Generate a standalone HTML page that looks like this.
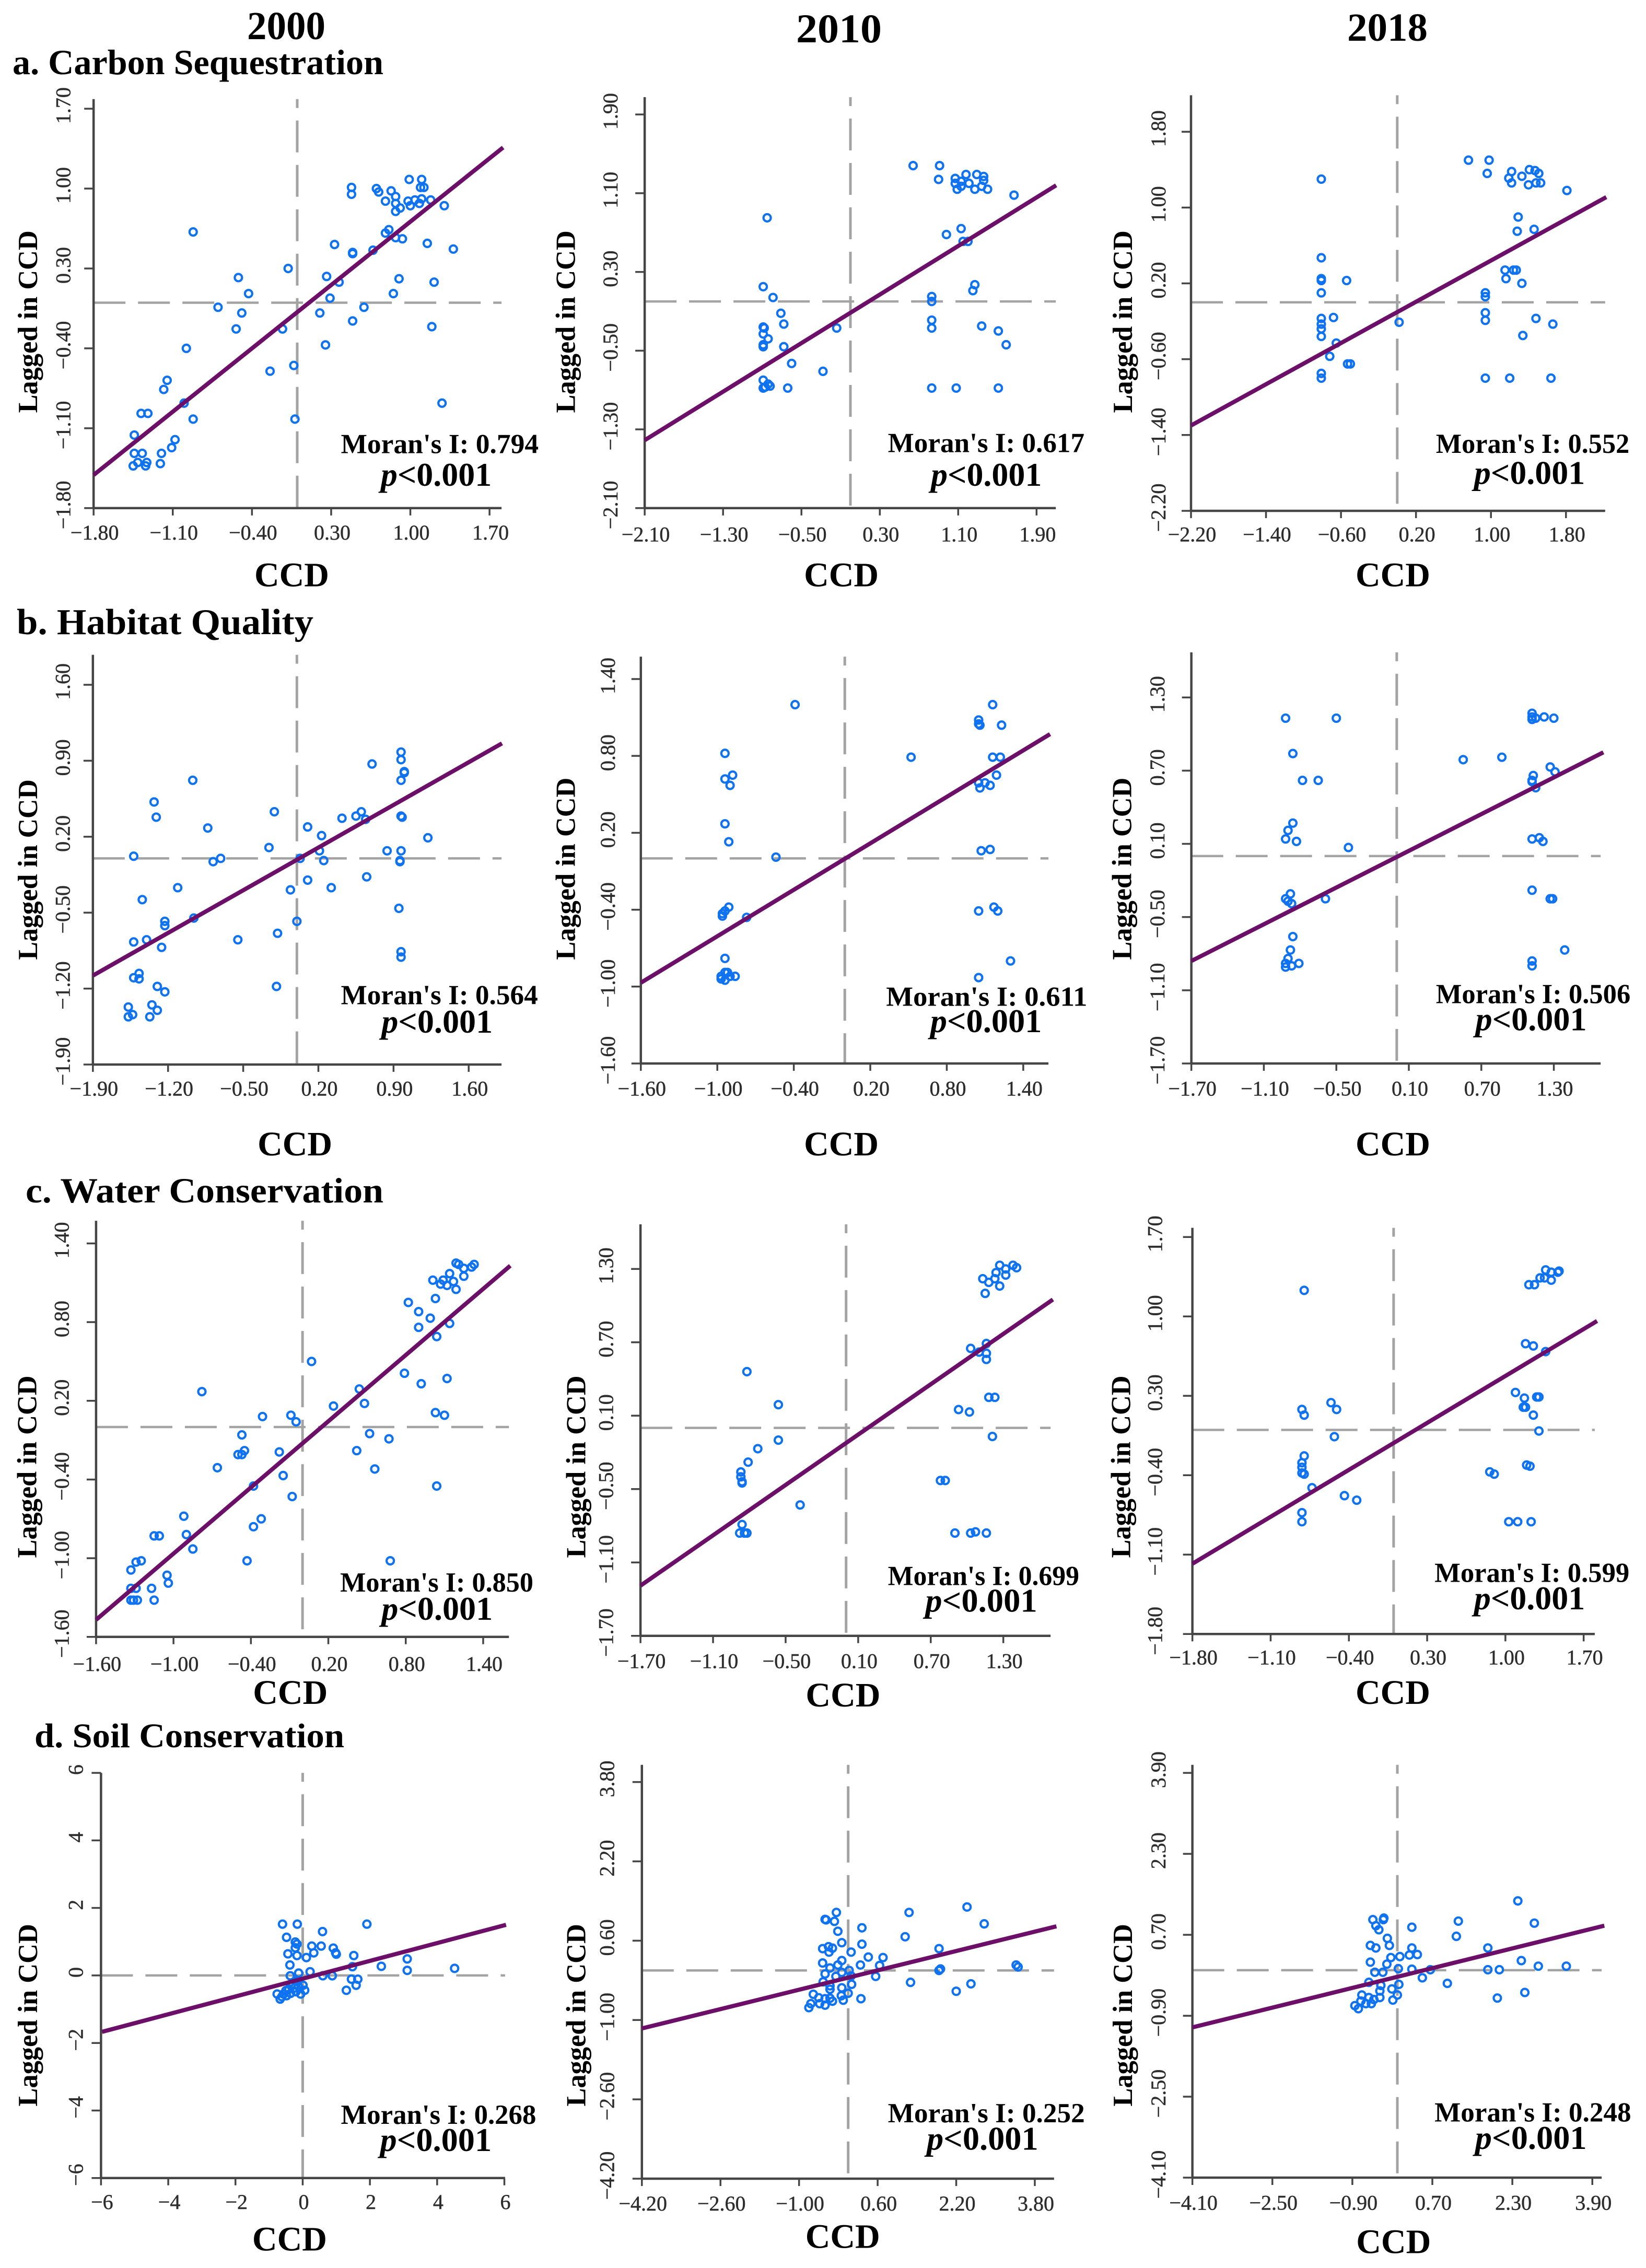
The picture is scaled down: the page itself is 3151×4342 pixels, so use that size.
<!DOCTYPE html>
<html lang="en">
<head>
<meta charset="utf-8">
<title>Moran scatter plots of CCD</title>
<style>
html,body{margin:0;padding:0;background:#fff;width:3151px;height:4342px;overflow:hidden}
svg{display:block}
text{font-family:"Liberation Serif","Noto Serif CJK SC",serif}
.b{font-weight:bold;fill:#000}
</style>
</head>
<body>
<svg id="figure" xmlns="http://www.w3.org/2000/svg" width="3151" height="4342" viewBox="0 0 3151 4342">
<rect width="3151" height="4342" fill="#fff"/>
<text class="b" x="548" y="75" font-size="76" text-anchor="middle" textLength="150" lengthAdjust="spacingAndGlyphs">2000</text>
<text class="b" x="1606" y="81" font-size="78" text-anchor="middle" textLength="164" lengthAdjust="spacingAndGlyphs">2010</text>
<text class="b" x="2656" y="78" font-size="76" text-anchor="middle" textLength="154" lengthAdjust="spacingAndGlyphs">2018</text>
<text class="b" x="24" y="142" font-size="68" textLength="710" lengthAdjust="spacingAndGlyphs">a. Carbon Sequestration</text>
<text class="b" x="32" y="1214" font-size="70" textLength="568" lengthAdjust="spacingAndGlyphs">b. Habitat Quality</text>
<text class="b" x="49" y="2302" font-size="68" textLength="685" lengthAdjust="spacingAndGlyphs">c. Water Conservation</text>
<text class="b" x="66" y="3345" font-size="66" textLength="593" lengthAdjust="spacingAndGlyphs">d. Soil Conservation</text>
<g id="panels"></g>
</svg>
<script>
// ---- Chart data (values in axis units) ----
const ticks18 = [-1.8,-1.1,-0.4,0.3,1.0,1.7];
const ticks21 = [-2.1,-1.3,-0.5,0.3,1.1,1.9];
const ticks22 = [-2.2,-1.4,-0.6,0.2,1.0,1.8];
const ticks19 = [-1.9,-1.2,-0.5,0.2,0.9,1.6];
const ticks16b = [-1.6,-1.0,-0.4,0.2,0.8,1.4];
const ticks17 = [-1.7,-1.1,-0.5,0.1,0.7,1.3];
const ticks6 = [-6,-4,-2,0,2,4,6];
const ticks42 = [-4.2,-2.6,-1.0,0.6,2.2,3.8];
const ticks41 = [-4.1,-2.5,-0.9,0.7,2.3,3.9];

const moranValues = ["0.794","0.617","0.552","0.564","0.611","0.506","0.850","0.699","0.599","0.268","0.252","0.248"];

const lineA2000X = [-1.8,1.82], lineA2000Y = [-1.51,1.36];
const lineA2010X = [-2.1,2.10], lineA2010Y = [-1.41,1.18];
const lineA2018X = [-2.2,2.23], lineA2018Y = [-1.30,1.11];
const lineB2000X = [-1.9,1.91], lineB2000Y = [-1.08,1.06];
const lineB2010X = [-1.6,1.61], lineB2010Y = [-0.97,0.97];
const lineB2018X = [-1.7,1.71], lineB2018Y = [-0.86,0.85];
const lineC2000X = [-1.6,1.61], lineC2000Y = [-1.47,1.23];
const lineC2010X = [-1.7,1.71], lineC2010Y = [-1.29,1.05];
const lineC2018X = [-1.8,1.82], lineC2018Y = [-1.18,0.96];
const lineD2000X = [-5.97,6.05], lineD2000Y = [-1.67,1.50];
const lineD2010X = [-4.2,4.24], lineD2010Y = [-1.17,0.89];
const lineD2018X = [-4.1,4.14], lineD2018Y = [-1.13,0.88];

const pointsA2000 = [[-.92,.62],[.48,1.01],[.48,.95],[.70,1.00],[.72,.97],[.83,.98],[.87,.93],[.78,.89],[.87,.87],[.87,.80],[.91,.83],[.99,1.08],[1.10,1.08],[1.09,1.01],[1.12,1.01],[.98,.89],[1.00,.85],[1.04,.90],[1.08,.87],[1.10,.91],[1.18,.90],[1.30,.85],[.81,.64],[.78,.61],[.87,.57],[.93,.56],[1.15,.52],[1.38,.47],[.67,.46],[.33,.51],[.49,.44],[.49,.43],[-.08,.30],[.26,.23],[.37,.18],[.90,.21],[1.21,.18],[-.52,.22],[-.43,.08],[.85,.08],[.29,.04],[.59,-.04],[-.70,-.04],[-.49,-.09],[.20,-.09],[-.54,-.23],[-.13,-.23],[.49,-.16],[1.19,-.21],[.25,-.37],[-.98,-.40],[-.24,-.60],[-.03,-.55],[-1.15,-.68],[-1.18,-.76],[-1.00,-.88],[1.28,-.88],[-1.38,-.97],[-1.32,-.97],[-.92,-1.02],[-.02,-1.02],[-1.44,-1.16],[-1.08,-1.20],[-1.11,-1.27],[-1.44,-1.32],[-1.37,-1.32],[-1.20,-1.32],[-1.41,-1.40],[-1.33,-1.40],[-1.21,-1.41],[-1.45,-1.43],[-1.34,-1.43]];
const pointsA2010 = [[.64,1.38],[.91,1.38],[.90,1.24],[1.07,1.25],[1.07,1.20],[1.18,1.29],[1.29,1.29],[1.36,1.27],[1.36,1.23],[1.13,1.22],[1.21,1.20],[1.13,1.17],[1.09,1.14],[1.27,1.14],[1.34,1.17],[1.40,1.14],[1.67,1.08],[1.13,.74],[.98,.68],[1.15,.61],[1.20,.61],[-.85,.85],[-.89,.15],[-.79,.04],[1.27,.17],[1.25,.11],[.83,.05],[.83,.00],[.83,-.19],[.83,-.27],[-.71,-.12],[-.68,-.23],[-.89,-.26],[-.88,-.27],[-.89,-.33],[-.84,-.38],[-.89,-.44],[-.89,-.46],[-.68,-.46],[-.14,-.27],[1.34,-.25],[1.51,-.30],[1.59,-.44],[-.60,-.63],[-.28,-.71],[-.89,-.80],[-.89,-.88],[-.84,-.84],[-.82,-.86],[-.87,-.87],[-.64,-.88],[.83,-.88],[1.08,-.88],[1.51,-.88]];
const pointsA2018 = [[.76,1.50],[.98,1.50],[.96,1.36],[-.81,1.30],[1.22,1.38],[1.19,1.31],[1.22,1.26],[1.33,1.33],[1.41,1.40],[1.40,1.24],[1.47,1.39],[1.51,1.36],[1.48,1.26],[1.53,1.26],[1.81,1.18],[1.29,.90],[1.28,.75],[1.46,.77],[-.81,.47],[-.81,.25],[-.81,.23],[-.54,.23],[-.81,.10],[1.15,.34],[1.16,.25],[1.24,.34],[1.27,.34],[1.33,.20],[.94,.10],[.94,.06],[.94,-.11],[.94,-.19],[.02,-.21],[-.68,-.16],[-.81,-.17],[-.81,-.23],[-.81,-.28],[-.81,-.36],[1.48,-.17],[1.66,-.23],[1.34,-.35],[-.65,-.43],[-.72,-.57],[-.53,-.65],[-.50,-.65],[-.81,-.75],[-.81,-.80],[.94,-.80],[1.20,-.80],[1.64,-.80]];
const pointsB2000 = [[.97,.98],[.97,.91],[.70,.87],[1.00,.80],[1.00,.79],[.97,.72],[-.97,.72],[-1.33,.52],[-1.31,.38],[-.83,.28],[-.21,.43],[.97,.39],[.98,.38],[.60,.43],[.55,.39],[.64,.36],[.42,.37],[.10,.29],[.23,.21],[1.22,.19],[-.26,.10],[.21,.07],[.84,.07],[.97,.07],[-1.52,.02],[-.71,0],[-.78,-.03],[.03,0],[.25,-.02],[.96,-.02],[.96,-.03],[.65,-.17],[.10,-.20],[-1.11,-.27],[-.06,-.29],[.32,-.27],[-1.44,-.38],[.95,-.46],[-.96,-.55],[-1.23,-.58],[-1.23,-.62],[0,-.58],[-.18,-.69],[-1.40,-.75],[-.55,-.75],[-1.52,-.77],[-1.26,-.82],[.97,-.86],[.97,-.91],[-1.47,-1.06],[-1.52,-1.10],[-1.47,-1.11],[-1.30,-1.18],[-.19,-1.18],[-1.23,-1.23],[-1.35,-1.35],[-1.57,-1.37],[-1.30,-1.40],[-1.53,-1.44],[-1.57,-1.46],[-1.37,-1.46]];
const pointsB2010 = [[-.39,1.20],[1.16,1.20],[1.05,1.08],[1.05,1.05],[1.06,1.04],[1.23,1.04],[-.94,.82],[.52,.79],[1.16,.79],[1.22,.79],[-.88,.65],[1.19,.65],[-.94,.62],[-.90,.57],[1.05,.59],[1.10,.59],[1.06,.55],[1.14,.57],[-.94,.27],[-.91,.13],[1.14,.07],[1.07,.06],[-.54,.01],[-.91,-.38],[-.94,-.41],[-.96,-.43],[-.96,-.45],[-.77,-.46],[1.05,-.41],[1.17,-.38],[1.20,-.41],[-.94,-.78],[1.30,-.80],[-.94,-.89],[-.90,-.92],[-.86,-.92],[-.97,-.92],[-.97,-.94],[-.94,-.95],[-.92,-.89],[1.05,-.93]];
const pointsB2018 = [[-.92,1.13],[-.50,1.13],[1.12,1.17],[1.12,1.12],[1.15,1.13],[1.12,1.14],[1.22,1.14],[1.30,1.13],[-.86,.84],[.55,.79],[.87,.81],[1.27,.73],[1.31,.69],[-.78,.62],[-.65,.62],[1.13,.66],[1.12,.62],[1.12,.61],[1.15,.56],[-.86,.27],[-.90,.21],[-.92,.14],[-.83,.12],[1.12,.14],[1.18,.15],[1.21,.12],[-.40,.07],[1.12,-.28],[-.88,-.31],[-.92,-.35],[-.90,-.37],[-.87,-.39],[-.59,-.35],[1.27,-.35],[1.29,-.35],[-.86,-.66],[-.88,-.77],[1.39,-.77],[-.90,-.84],[-.81,-.88],[-.92,-.88],[-.92,-.91],[-.87,-.90],[1.12,-.86],[1.12,-.90]];
const pointsC2000 = [[1.19,1.25],[1.21,1.24],[1.25,1.21],[1.31,1.22],[1.33,1.24],[1.14,1.17],[1.25,1.15],[1.01,1.12],[1.09,1.12],[1.07,1.09],[1.12,1.08],[1.17,1.11],[1.19,1.05],[1.03,.98],[.82,.95],[.90,.88],[.99,.83],[.90,.76],[1.14,.79],[1.04,.69],[.07,.50],[.79,.41],[1.12,.37],[.92,.33],[.44,.29],[-.78,.27],[.24,.16],[.48,.18],[-.31,.08],[-.09,.09],[-.05,.04],[1.03,.11],[1.10,.09],[-.47,-.06],[.52,-.05],[.67,-.09],[-.45,-.18],[-.50,-.21],[-.47,-.21],[-.18,-.19],[.42,-.18],[-.66,-.31],[.56,-.32],[-.15,-.37],[-.38,-.45],[1.04,-.45],[-.08,-.53],[-.92,-.68],[-.32,-.70],[-.38,-.76],[-.90,-.82],[-1.15,-.83],[-1.11,-.83],[-.85,-.93],[-.43,-1.02],[.68,-1.02],[-1.25,-1.02],[-1.29,-1.03],[-1.33,-1.09],[-1.05,-1.13],[-1.04,-1.19],[-1.29,-1.23],[-1.33,-1.23],[-1.17,-1.23],[-1.33,-1.32],[-1.31,-1.32],[-1.28,-1.32],[-1.15,-1.32]];
const pointsC2010 = [[1.27,1.33],[1.38,1.33],[1.41,1.31],[1.32,1.30],[1.24,1.27],[1.32,1.25],[1.13,1.22],[1.23,1.22],[1.18,1.19],[1.27,1.16],[1.15,1.10],[1.16,.69],[1.03,.65],[1.10,.62],[1.16,.61],[1.16,.56],[-.82,.46],[1.18,.25],[1.23,.25],[-.56,.19],[.93,.15],[1.02,.13],[1.21,-.07],[-.56,-.10],[-.73,-.17],[-.81,-.28],[-.87,-.36],[-.87,-.40],[-.86,-.44],[-.86,-.45],[.78,-.43],[.82,-.43],[-.38,-.63],[-.86,-.79],[-.88,-.86],[-.82,-.86],[-.84,-.86],[.90,-.86],[1.03,-.86],[1.07,-.85],[1.16,-.86]];
const pointsC2018 = [[1.36,1.41],[1.41,1.39],[1.48,1.40],[1.47,1.39],[1.31,1.34],[1.35,1.34],[1.41,1.32],[1.21,1.28],[1.26,1.28],[-.80,1.23],[1.18,.76],[1.25,.74],[1.36,.69],[1.09,.33],[1.17,.28],[1.28,.29],[1.30,.29],[-.56,.24],[-.82,.18],[-.51,.18],[1.16,.20],[1.18,.20],[-.80,.13],[1.25,.13],[1.30,-.01],[-.53,-.06],[-.80,-.23],[-.82,-.29],[-.82,-.33],[-.82,-.38],[-.80,-.39],[1.19,-.31],[1.22,-.32],[.86,-.37],[.90,-.39],[-.73,-.51],[-.44,-.58],[-.33,-.62],[-.82,-.73],[-.82,-.81],[1.03,-.81],[1.11,-.81],[1.23,-.81]];
const pointsD2000 = [[-.60,1.52],[-.16,1.52],[1.91,1.52],[.59,1.30],[-.48,1.13],[-.22,.99],[-.22,.82],[-.17,.93],[.27,.87],[.55,.87],[.91,.81],[.98,.67],[1.00,.63],[-.44,.64],[.33,.67],[-.17,.59],[.11,.53],[1.52,.59],[3.11,.49],[-.38,.31],[1.48,.26],[2.34,.27],[3.11,.15],[4.52,.21],[.22,.11],[-.12,.07],[-.37,-.01],[.60,-.01],[.88,-.01],[1.45,-.11],[1.64,-.11],[1.59,-.29],[1.30,-.44],[.06,-.44],[-.06,-.55],[.01,-.29],[-.20,-.17],[-.34,-.27],[-.41,-.40],[-.20,-.48],[-.36,-.53],[-.50,-.45],[-.57,-.55],[-.48,-.60],[-.76,-.55],[-.67,-.70],[-.62,-.63],[-.25,-.37],[-.13,-.32]];
const pointsD2010 = [[2.42,1.28],[-.24,1.17],[1.24,1.17],[-.47,1.03],[-.45,1.02],[2.77,.94],[-.28,.99],[.28,.86],[-.21,.79],[1.16,.68],[-.13,.56],[.28,.53],[-.52,.44],[-.40,.48],[-.32,.45],[-.39,.37],[.06,.37],[1.85,.44],[.41,.27],[.71,.26],[-.13,.20],[-.52,.15],[.25,.11],[.64,.10],[-.21,.11],[-.37,.05],[3.42,.11],[3.46,.07],[1.88,.03],[1.85,0],[.02,0],[-.13,-.04],[-.47,-.07],[-.25,-.12],[.06,-.11],[.56,-.12],[-.51,-.23],[1.27,-.24],[2.50,-.27],[.07,-.28],[-.37,-.31],[-.13,-.35],[-.37,-.38],[2.20,-.42],[0,-.46],[-.71,-.48],[-.14,-.51],[-.60,-.55],[-.37,-.56],[.26,-.57],[-.10,-.60],[-.32,-.62],[-.47,-.57],[-.76,-.67],[-.58,-.67],[-.47,-.70],[-.80,-.75]];
const pointsD2018 = [[2.41,1.37],[-.27,1.03],[-.49,1.00],[-.28,1.00],[1.22,.97],[2.74,.93],[-.43,.88],[.29,.85],[-.37,.80],[1.18,.67],[-.20,.63],[-.16,.49],[-.54,.49],[-.43,.44],[.29,.44],[1.81,.44],[.40,.31],[.24,.30],[.05,.27],[-.13,.25],[2.48,.19],[-.54,.16],[-.21,.12],[2.82,.08],[3.38,.08],[.02,.03],[.29,.02],[.66,.01],[1.81,.01],[2.04,.01],[-.45,-.04],[-.29,-.04],[.50,-.15],[-.57,-.24],[1.00,-.26],[.03,-.28],[-.33,-.30],[-.11,-.37],[-.35,-.41],[2.55,-.44],[-.71,-.49],[0,-.49],[-.57,-.54],[-.35,-.54],[2.00,-.55],[-.09,-.59],[-.47,-.58],[-.73,-.61],[-.63,-.66],[-.52,-.66],[-.85,-.70],[-.78,-.76]];

// ---- Layout (measured in per-cell reference units, converted below) ----
const colScale = [{o:0,k:1.479},{o:1060,k:1.493},{o:2110,k:1.506}];
const rowScale = [{o:0,k:1.36},{o:1150,k:1.447},{o:2230,k:1.475},{o:3290,k:1.488}];
const panelLayouts = [
 {id:'a-2000',r:0,c:0,px:[265,1386],py:[1323,283],right:1420,top:258,xl:1387,yl:180,ccd:[826,1497],lag:[80,600,1075],m:[965,1525,1180],p:[1078,1392,1265]},
 {id:'a-2010',r:0,c:1,px:[260,1380],py:[1323,298],right:1435,top:253,xl:1392,yl:163,ccd:[822,1497],lag:[35,600,1075],m:[955,1517,1177],p:[1078,1395,1265]},
 {id:'a-2018',r:0,c:2,px:[256,1337],py:[1330,343],right:1450,top:248,xl:1392,yl:163,ccd:[838,1497],lag:[60,600,1075],m:[962,1520,1179],p:[1072,1392,1260]},
 {id:'b-2000',r:1,c:0,px:[263,1327],py:[1285,233],right:1420,top:150,xl:1352,yl:178,ccd:[835,1505],lag:[80,495,995],m:[965,1523,1118],p:[1080,1395,1197]},
 {id:'b-2010',r:1,c:1,px:[249,1342],py:[1282,217],right:1414,top:155,xl:1352,yl:155,ccd:[822,1505],lag:[35,490,995],m:[950,1525,1122],p:[1076,1395,1195]},
 {id:'b-2018',r:1,c:2,px:[257,1302],py:[1282,268],right:1437,top:143,xl:1352,yl:160,ccd:[838,1505],lag:[58,490,995],m:[962,1523,1115],p:[1076,1397,1190]},
 {id:'c-2000',r:2,c:0,px:[272,1368],py:[1333,222],right:1441,top:158,xl:1410,yl:175,ccd:[822,1490],lag:[78,595,1110],m:[963,1510,1205],p:[1080,1395,1285]},
 {id:'c-2010',r:2,c:1,px:[248,1285],py:[1330,294],right:1420,top:168,xl:1402,yl:150,ccd:[827,1497],lag:[65,595,1110],m:[955,1502,1187],p:[1062,1382,1262]},
 {id:'c-2018',r:2,c:2,px:[260,1388],py:[1325,204],right:1420,top:178,xl:1392,yl:153,ccd:[838,1490],lag:[55,595,1110],m:[958,1520,1178],p:[1072,1392,1255]},
 {id:'d-2000',r:3,c:0,px:[286,1428],py:[1309,155],right:1430,top:155,xl:1378,yl:215,ccd:[820,1483],lag:[80,585,1105],m:[965,1518,1155],p:[1076,1392,1232]},
 {id:'d-2010',r:3,c:1,px:[252,1375],py:[1311,181],right:1430,top:132,xl:1382,yl:153,ccd:[826,1475],lag:[65,585,1105],m:[955,1518,1150],p:[1066,1385,1228]},
 {id:'d-2018',r:3,c:2,px:[260,1413],py:[1308,155],right:1440,top:132,xl:1380,yl:163,ccd:[840,1490],lag:[60,585,1105],m:[958,1525,1148],p:[1075,1397,1226]}
];
const panelData = [
 {xt:ticks18,yt:ticks18,pts:pointsA2000,lx:lineA2000X,ly:lineA2000Y},
 {xt:ticks21,yt:ticks21,pts:pointsA2010,lx:lineA2010X,ly:lineA2010Y},
 {xt:ticks22,yt:ticks22,pts:pointsA2018,lx:lineA2018X,ly:lineA2018Y},
 {xt:ticks19,yt:ticks19,pts:pointsB2000,lx:lineB2000X,ly:lineB2000Y},
 {xt:ticks16b,yt:ticks16b,pts:pointsB2010,lx:lineB2010X,ly:lineB2010Y},
 {xt:ticks17,yt:ticks17,pts:pointsB2018,lx:lineB2018X,ly:lineB2018Y},
 {xt:ticks16b,yt:ticks16b,pts:pointsC2000,lx:lineC2000X,ly:lineC2000Y},
 {xt:ticks17,yt:ticks17,pts:pointsC2010,lx:lineC2010X,ly:lineC2010Y},
 {xt:ticks18,yt:ticks18,pts:pointsC2018,lx:lineC2018X,ly:lineC2018Y},
 {xt:ticks6,yt:ticks6,pts:pointsD2000,lx:lineD2000X,ly:lineD2000Y,ints:true},
 {xt:ticks42,yt:ticks42,pts:pointsD2010,lx:lineD2010X,ly:lineD2010Y},
 {xt:ticks41,yt:ticks41,pts:pointsD2018,lx:lineD2018X,ly:lineD2018Y}
];

const NS = 'http://www.w3.org/2000/svg';
function mk(parent, tag, props, txt){
  const e = document.createElementNS(NS, tag);
  for (const k in props) e.setAttribute(k, props[k]);
  if (txt !== undefined) e.textContent = txt;
  parent.appendChild(e);
  return e;
}
function fmt(v, ints){
  const s = ints ? String(Math.abs(v)) : Math.abs(v).toFixed(2);
  return (v < 0 ? '\u2212' : '') + s;
}
const AXIS = '#454545', DASH = '#a3a3a3', TICKTXT = '#2d2d2d';
const root = document.getElementById('panels');

panelLayouts.forEach(function(L, i){
  const D = panelData[i];
  const cs = colScale[L.c], rs = rowScale[L.r];
  const fx = function(z){ return cs.o + z / cs.k; };
  const fy = function(z){ return rs.o + z / rs.k; };
  const x0 = D.xt[0], x1 = D.xt[D.xt.length-1], y0 = D.yt[0], y1 = D.yt[D.yt.length-1];
  const xScale = function(v){ return fx(L.px[0]) + (v - x0) / (x1 - x0) * (fx(L.px[1]) - fx(L.px[0])); };
  const yScale = function(v){ return fy(L.py[0]) + (v - y0) / (y1 - y0) * (fy(L.py[1]) - fy(L.py[0])); };
  const left = xScale(x0), bottom = yScale(y0), right = fx(L.right), top = fy(L.top);

  const g = mk(root, 'g', {});
  
  

  // mean reference lines
  const vRef = mk(g, 'line', {x1:xScale(0),x2:xScale(0),y1:top,y2:bottom,stroke:DASH,'stroke-width':5,'stroke-dasharray':'61 24','stroke-dashoffset':44});
  
  
  const hRef = mk(g, 'line', {x1:left,x2:right,y1:yScale(0),y2:yScale(0),stroke:DASH,'stroke-width':4.5,'stroke-dasharray':'61 24'});
  
  

  // axes
  const yAxis = mk(g, 'line', {x1:left,x2:left,y1:top,y2:bottom,stroke:AXIS,'stroke-width':4.5});
  
  
  const xAxis = mk(g, 'line', {x1:left,x2:right,y1:bottom,y2:bottom,stroke:AXIS,'stroke-width':4.5});
  
  

  D.xt.forEach(function(v){
    const t = mk(g, 'line', {x1:xScale(v),x2:xScale(v),y1:bottom,y2:bottom+14,stroke:AXIS,'stroke-width':3.5});
    
    
    const lab = mk(g, 'text', {x:xScale(v)+2,y:fy(L.xl)+13,'font-size':40,'text-anchor':'middle',fill:TICKTXT,stroke:TICKTXT,'stroke-width':0.5}, fmt(v, D.ints));
    
    
  });
  D.yt.forEach(function(v){
    const t = mk(g, 'line', {x1:left-18,x2:left,y1:yScale(v),y2:yScale(v),stroke:AXIS,'stroke-width':3.5});
    
    
    const cx = fx(L.yl), cy = yScale(v) - 6;
    const lab = mk(g, 'text', {x:cx,y:cy+13,'font-size':40,'text-anchor':'middle',fill:TICKTXT,stroke:TICKTXT,'stroke-width':0.5,transform:'rotate(-90 '+cx+' '+cy+')'}, fmt(v, D.ints));
    
    
  });

  // points
  D.pts.forEach(function(p){
    const c = mk(g, 'circle', {cx:xScale(p[0]),cy:yScale(p[1]),r:7,fill:'none',stroke:'#0f72f0','stroke-width':4.2});
    
    
  });

  // regression line
  const reg = mk(g, 'line', {x1:xScale(D.lx[0]),y1:yScale(D.ly[0]),x2:xScale(D.lx[1]),y2:yScale(D.ly[1]),stroke:'#6c0f68','stroke-width':8});
  
  

  // titles
  const xt = mk(g, 'text', {x:fx(L.ccd[0]),y:fy(L.ccd[1])+22,'font-size':66,'font-weight':'bold','text-anchor':'middle',fill:'#000'}, 'CCD');
  
  
  const lx = fx(L.lag[0]), ly = (fy(L.lag[1]) + fy(L.lag[2])) / 2, llen = fy(L.lag[2]) - fy(L.lag[1]);
  const yt = mk(g, 'text', {x:lx,y:ly+17,'font-size':53,'font-weight':'bold','text-anchor':'middle',fill:'#000',textLength:llen,lengthAdjust:'spacingAndGlyphs',transform:'rotate(-90 '+lx+' '+ly+')'}, 'Lagged in CCD');
  
  

  // annotations
  const mt = mk(g, 'text', {x:fx(L.m[0]),y:fy(L.m[2]),'font-size':53,'font-weight':'bold',fill:'#000',textLength:fx(L.m[1])-fx(L.m[0]),lengthAdjust:'spacingAndGlyphs'}, "Moran's I: " + moranValues[i]);
  
  
  const pt = mk(g, 'text', {x:fx(L.p[0]),y:fy(L.p[2]),'font-size':64,'font-weight':'bold',fill:'#000',textLength:fx(L.p[1])-fx(L.p[0]),lengthAdjust:'spacingAndGlyphs'});
  
  
  mk(pt, 'tspan', {'font-style':'italic'}, 'p');
  mk(pt, 'tspan', {}, '<0.001');
});
</script>
</body>
</html>
